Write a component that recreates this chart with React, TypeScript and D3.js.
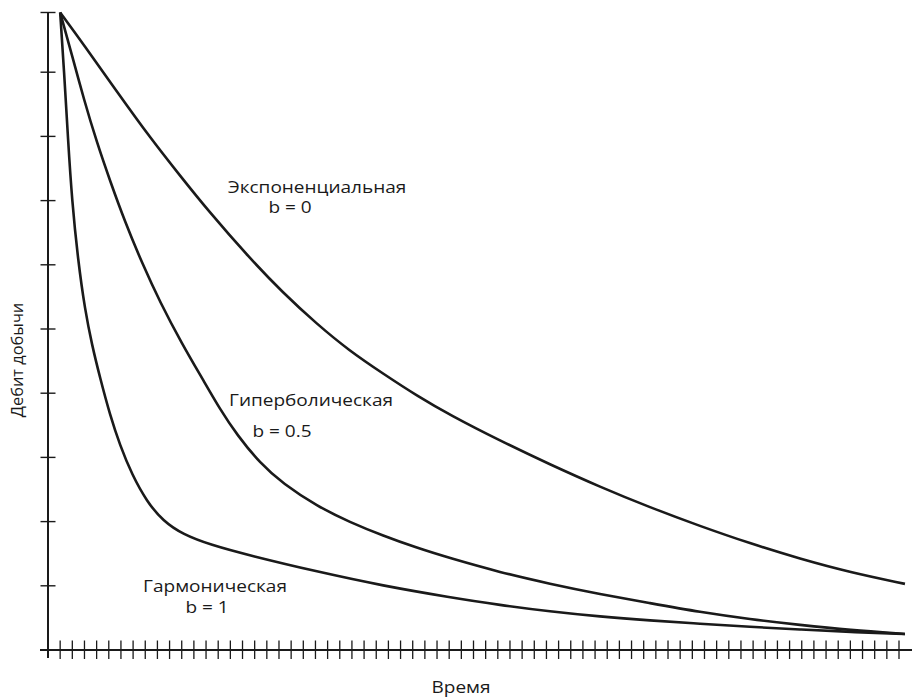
import * as d3 from "d3";

const WIDTH = 912;
const HEIGHT = 700;

// axis ticks (time steps and rate divisions, no labels in the picture)
const TIME_TICKS = d3.range(1, 71);
const RATE_TICKS = [1, 2, 3, 4, 5, 6, 7, 8, 9, 9.93];

// curves: [time, rate]
const EXPONENTIAL: [number, number][] = [
  [1.0, 9.93], [2.9, 9.44], [5.7, 8.69], [8.4, 7.98], [10.9, 7.38],
  [13.1, 6.86], [16.6, 6.1], [19.3, 5.57], [22.1, 5.08], [24.8, 4.66],
  [27.6, 4.3], [30.35, 3.96], [33.07, 3.66], [37.18, 3.26], [41.29, 2.89],
  [45.41, 2.54], [49.52, 2.22], [53.63, 1.93], [57.74, 1.66], [61.86, 1.42],
  [65.97, 1.21], [70.49, 1.03],
];

const HYPERBOLIC: [number, number][] = [
  [1.0, 9.93], [1.97, 9.27], [2.96, 8.57], [4.03, 7.9], [5.1, 7.31],
  [6.33, 6.67], [7.73, 6.03], [9.21, 5.42], [11.02, 4.77], [12.75, 4.21],
  [14.15, 3.75], [15.55, 3.35], [17.44, 2.91], [19.33, 2.59], [22.13, 2.24],
  [24.84, 1.99], [27.56, 1.78], [30.35, 1.59], [33.07, 1.43], [37.18, 1.21],
  [41.29, 1.03], [45.41, 0.87], [49.52, 0.73], [53.63, 0.59], [57.74, 0.48],
  [61.86, 0.39], [65.97, 0.31], [70.49, 0.25],
];

const HARMONIC: [number, number][] = [
  [1.0, 9.93], [1.32, 9.03], [1.65, 7.94], [1.97, 7.01], [2.47, 6.07],
  [3.04, 5.3], [3.62, 4.75], [4.28, 4.24], [5.1, 3.66], [5.92, 3.19],
  [6.91, 2.73], [8.14, 2.31], [9.46, 2.01], [11.1, 1.8], [13.33, 1.64],
  [16.62, 1.47], [22.13, 1.22], [27.56, 1.0], [33.07, 0.82], [37.18, 0.7],
  [41.29, 0.6], [45.41, 0.52], [49.52, 0.46], [53.63, 0.41], [57.74, 0.36],
  [61.86, 0.32], [65.97, 0.28], [70.49, 0.25],
];

const SERIES = [EXPONENTIAL, HYPERBOLIC, HARMONIC];

const INK = "#1a1a1a";
const FONT = "'Open Sans', 'DejaVu Sans', sans-serif";
const FONT_SIZE = 16.4;
const STRETCH = 1.16; // the source picture is a little wider than tall

function Label({ x, y, text }: { x: number; y: number; text: string }) {
  return (
    <text
      transform={`translate(${x},${y}) scale(${STRETCH},1)`}
      textAnchor="middle"
      fontFamily={FONT}
      fontSize={FONT_SIZE}
      fontWeight={500}
      fill={INK}
    >
      {text}
    </text>
  );
}

export default function App() {
  const x = d3.scaleLinear().domain([0, 70]).range([48, 899]);
  const y = d3.scaleLinear().domain([0, 10]).range([650, 8]);

  const line = d3
    .line<[number, number]>()
    .x((d) => x(d[0]))
    .y((d) => y(d[1]))
    .curve(d3.curveBasis);

  const x0 = x(0);
  const y0 = y(0);

  return (
    <svg
      width={WIDTH}
      height={HEIGHT}
      style={{ position: "absolute", left: 0, top: 0, background: "#fff" }}
    >
      {/* curves */}
      {SERIES.map((s, i) => (
        <path
          key={i}
          d={line(s) ?? ""}
          fill="none"
          stroke={INK}
          strokeWidth={2.6}
          strokeLinejoin="round"
        />
      ))}

      {/* y axis */}
      <line x1={x0} x2={x0} y1={y(9.93)} y2={y0 + 8} stroke={INK} strokeWidth={2} />
      {RATE_TICKS.map((t) => (
        <line key={t} x1={x0 - 7.5} x2={x0 + 7.5} y1={y(t)} y2={y(t)} stroke={INK} strokeWidth={1.4} />
      ))}

      {/* x axis */}
      <line x1={40} x2={WIDTH} y1={y0} y2={y0} stroke={INK} strokeWidth={2} />
      {TIME_TICKS.map((t) => (
        <line key={t} x1={x(t)} x2={x(t)} y1={y0 - 9.5} y2={y0 + 9} stroke={INK} strokeWidth={1.3} />
      ))}

      {/* curve labels */}
      <Label x={317} y={193} text="Экспоненциальная" />
      <Label x={290} y={213} text="b = 0" />
      <Label x={311} y={406} text="Гиперболическая" />
      <Label x={282} y={437} text="b = 0.5" />
      <Label x={215} y={592} text="Гармоническая" />
      <Label x={207} y={613} text="b = 1" />

      {/* axis titles */}
      <Label x={461} y={693} text="Время" />
      <text
        transform="translate(23,360) rotate(-90)"
        textAnchor="middle"
        fontFamily={FONT}
        fontSize={FONT_SIZE}
        fontWeight={500}
        fill={INK}
      >
        Дебит добычи
      </text>
    </svg>
  );
}
